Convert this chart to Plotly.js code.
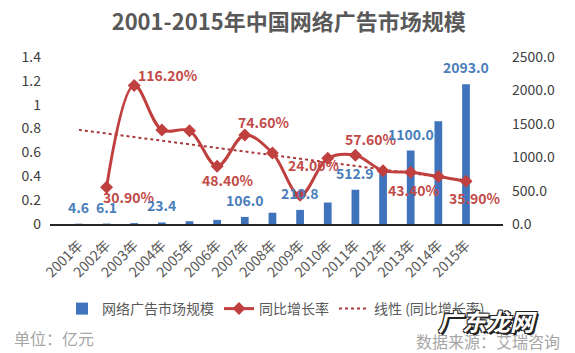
<!DOCTYPE html>
<html>
<head>
<meta charset="utf-8">
<script src="https://cdn.plot.ly/plotly-3.0.1.min.js"></script>
<style>html,body{margin:0;padding:0;background:#fff;}#chart{width:575px;height:353px;}</style>
</head>
<body>
<div id="chart"></div>
<script>
// ---- data ----
const years = ['2001年','2002年','2003年','2004年','2005年','2006年','2007年','2008年','2009年','2010年','2011年','2012年','2013年','2014年','2015年'];
const marketSize = [4.6, 6.1, 13.2, 23.4, 41.8, 62.0, 106.0, 169.0, 210.8, 321.2, 512.9, 753.1, 1100.0, 1540.0, 2093.0];
const growthRate = [null, 0.309, 1.162, 0.788, 0.782, 0.484, 0.746, 0.595, 0.240, 0.551, 0.576, 0.447, 0.434, 0.398, 0.359];
const sizeLabelYears = ['2001年','2002年','2004年','2007年','2009年','2011年','2013年','2015年'];
const rateLabelYears = ['2002年','2003年','2006年','2007年','2009年','2011年','2013年','2015年'];
const leftTicks = [0, 0.2, 0.4, 0.6, 0.8, 1, 1.2, 1.4];
const leftTickText = ['0','0.2','0.4','0.6','0.8','1','1.2','1.4'];
const rightTicks = [0, 500, 1000, 1500, 2000, 2500];
const rightTickText = ['0.0','500.0','1000.0','1500.0','2000.0','2500.0'];
const seriesNames = ['网络广告市场规模', '同比增长率', '线性 (同比增长率)'];

// label offsets (style config, pixels)
const rateLabelOffset = {
  '2002年':[22,-10], '2003年':[34,10], '2006年':[11,-14], '2007年':[19,13],
  '2009年':[14,30], '2011年':[16,16], '2013年':[3,-18], '2015年':[9,-17]
};

// linear trendline (least squares over category positions 1..n), like Excel
const pts = growthRate.map((v,i)=>[i+1,v]).filter(p=>p[1]!==null);
const mx = pts.reduce((s,p)=>s+p[0],0)/pts.length;
const my = pts.reduce((s,p)=>s+p[1],0)/pts.length;
const sxy = pts.reduce((s,p)=>s+(p[0]-mx)*(p[1]-my),0);
const sxx = pts.reduce((s,p)=>s+(p[0]-mx)*(p[0]-mx),0);
const slope = sxy/sxx, intercept = my - slope*mx;
const trend = years.map((_,i)=>intercept + slope*(i+1));

const blue = '#3f74bd', red = '#c0403f';

const traces = [
  {type:'bar', x:years, y:marketSize, name:seriesNames[0], yaxis:'y', marker:{color:blue}, legendrank:1, hoverinfo:'skip'},
  {type:'scatter', mode:'lines', x:years, y:trend, name:seriesNames[2], yaxis:'y2', line:{color:'#a83a3a', width:2, dash:'dot'}, legendrank:3, hoverinfo:'skip'},
  {type:'scatter', mode:'lines+markers', x:years, y:growthRate, name:seriesNames[1], yaxis:'y2',
   line:{color:red, width:3, shape:'spline', smoothing:1}, marker:{symbol:'diamond', size:10, color:red}, legendrank:2, cliponaxis:false, hoverinfo:'skip'}
];

const annotations = [];
years.forEach((yr,i)=>{
  if (sizeLabelYears.includes(yr)) {
    annotations.push({x:yr, y:marketSize[i], xref:'x', yref:'y', text:marketSize[i].toFixed(1), showarrow:false,
      yanchor:'middle', xanchor:'center', yshift:17, font:{size:14, color:'#4a7ebb', weight:'bold'}});
  }
  if (rateLabelYears.includes(yr)) {
    const o = rateLabelOffset[yr] || [0,0];
    annotations.push({x:yr, y:growthRate[i], xref:'x', yref:'y2', text:(growthRate[i]*100).toFixed(2)+'%', showarrow:false,
      yanchor:'middle', xanchor:'center', xshift:o[0], yshift:o[1], font:{size:14, color:'#c24a48', weight:'bold'}});
  }
});
annotations.push({xref:'paper', yref:'paper', x:(12-50)/453, y:(224-338)/167, xanchor:'left', yanchor:'middle', showarrow:false,
  text:'单位：亿元', font:{size:16, color:'#a6a6a6'}});
annotations.push({xref:'paper', yref:'paper', x:(562-50)/453, y:(224-341)/167, xanchor:'right', yanchor:'middle', showarrow:false,
  text:'数据来源：艾瑞咨询', font:{size:16, color:'#a6a6a6'}});
annotations.push({xref:'paper', yref:'paper', x:(487-50)/453, y:(224-320)/167, xanchor:'center', yanchor:'middle', showarrow:false,
  text:'广东龙网', font:{size:24, color:'#ffffff', weight:'bold', style:'italic',
  shadow:'1px 1px 0 #222, -1px -1px 0 #222, 1px -1px 0 #222, -1px 1px 0 #222, 2px 2px 0 #222'}});

const layout = {
  width:575, height:353,
  margin:{l:50, r:72, t:57, b:129, pad:0},
  paper_bgcolor:'#ffffff', plot_bgcolor:'#ffffff',
  font:{family:'"Noto Sans CJK SC","Noto Sans",sans-serif', color:'#404040', size:14},
  title:{text:'2001-2015年中国网络广告市场规模', font:{size:22, color:'#595959', weight:'bold'},
    x:0.502, xref:'container', xanchor:'center', y:1-22/353, yref:'container', yanchor:'middle'},
  xaxis:{type:'category', tickangle:-45, tickfont:{size:14, color:'#595959'}, showline:true, linecolor:'#262626', linewidth:1.5,
    showgrid:false, zeroline:false, ticks:'', ticklabelstandoff:6, fixedrange:true},
  yaxis:{side:'right', range:[0,2500], tickmode:'array', tickvals:rightTicks, ticktext:rightTickText, showgrid:false, zeroline:false,
    showline:false, ticks:'', ticklabelstandoff:8, tickfont:{size:14, color:'#404040'}, fixedrange:true},
  yaxis2:{overlaying:'y', side:'left', range:[0,1.4], tickmode:'array', tickvals:leftTicks, ticktext:leftTickText, showgrid:false,
    zeroline:false, showline:false, ticks:'', ticklabelstandoff:8, tickfont:{size:14, color:'#404040'}, fixedrange:true},
  bargap:0.72,
  showlegend:true,
  legend:{orientation:'h', xref:'container', yref:'container', x:0.48, xanchor:'center', y:1-309/353, yanchor:'middle',
    font:{size:14, color:'#595959'}, bgcolor:'rgba(0,0,0,0)', itemclick:false},
  annotations:annotations
};

Plotly.newPlot('chart', traces, layout, {displayModeBar:false, staticPlot:true});
</script>
</body>
</html>
